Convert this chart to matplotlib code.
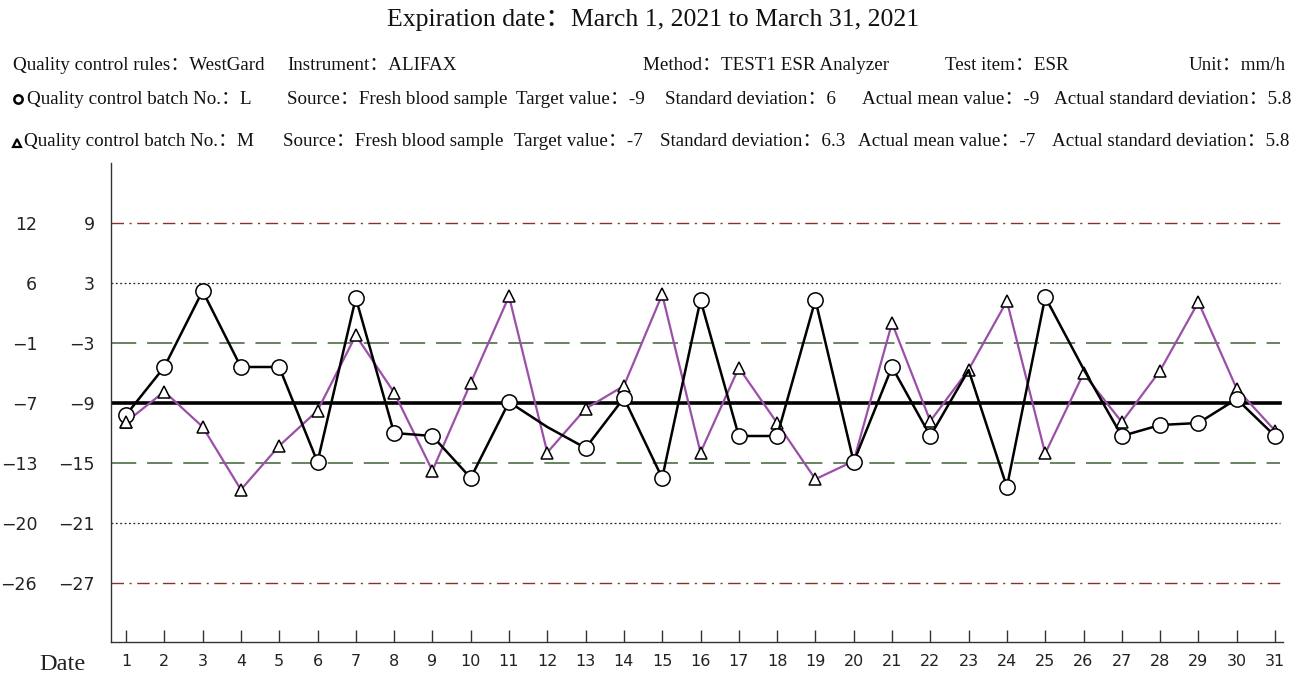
import matplotlib
matplotlib.use("Agg")
import matplotlib.pyplot as plt
import numpy as np

# ---------------- data ----------------
days = list(range(1, 32))
# batch L (circles), values in mm/h
batch_L = [-10.2, -5.4, 2.2, -5.4, -5.4, -14.9, 1.5, -12.0, -12.3, -16.5,
           -8.9, -11.4, -13.5, -8.5, -16.5, 1.3, -12.3, -12.3, 1.3, -14.9,
           -5.4, -12.3, -5.7, -17.4, 1.6, -5.6, -12.3, -11.2, -11.0, -8.6,
           -12.3]
# days of batch L whose marker is not drawn
L_no_marker = [12, 23, 26]
# batch M (triangles), values in mm/h
batch_M = [-9.0, -5.8, -9.5, -16.1, -11.5, -7.8, 0.1, -5.9, -14.1, -4.9,
           4.2, -12.2, -7.6, -5.2, 4.4, -12.2, -3.3, -9.1, -15.0, -13.1,
           1.4, -8.9, -3.5, 3.7, -12.3, -3.9, -9.0, -3.6, 3.6, -5.5,
           -9.9]
L_target, L_sd = -9, 6
M_target, M_sd = -7, 6.3
L_levels = [9, 3, -3, -9, -15, -21, -27]
M_labels = ["12", "6", "\u22121", "\u22127", "\u221213", "\u221220", "\u221226"]
L_labels = ["9", "3", "\u22123", "\u22129", "\u221215", "\u221221", "\u221227"]

title = "Expiration date\uff1aMarch 1, 2021 to March 31, 2021"
row2 = [("Quality control rules\uff1aWestGard", 13), ("Instrument\uff1aALIFAX", 287),
        ("Method\uff1aTEST1 ESR Analyzer", 643), ("Test item\uff1aESR", 945),
        ("Unit\uff1amm/h", 1189)]
row3 = [("Quality control batch No.\uff1aL", 27), ("Source\uff1aFresh blood sample", 287),
        ("Target value\uff1a-9", 516), ("Standard deviation\uff1a6", 665),
        ("Actual mean value\uff1a-9", 862), ("Actual standard deviation\uff1a5.8", 1054)]
row4 = [("Quality control batch No.\uff1aM", 24), ("Source\uff1aFresh blood sample", 283),
        ("Target value\uff1a-7", 514), ("Standard deviation\uff1a6.3", 660),
        ("Actual mean value\uff1a-7", 858), ("Actual standard deviation\uff1a5.8", 1052)]

# ---------------- figure ----------------
W, H = 1306, 675
fig = plt.figure(figsize=(W / 100, H / 100), dpi=100)
ax = fig.add_axes([111 / W, 1 - 642 / H, (1283 - 111) / W, (642 - 163) / H])

serif = ["Liberation Serif", "Noto Sans CJK SC"]
sans = ["DejaVu Sans"]

ax.set_xlim(1 - 15 / 38.3, 31 + 8 / 38.3)
ax.set_ylim(-32.9, 15)

x_end = 31 + 5 / 38.3
x0 = ax.get_xlim()[0]
# control lines
styles = {
    9: dict(color="#8a3324", lw=1.0, ls=(0, (9, 4, 1.5, 4))),
    -27: dict(color="#8a3324", lw=1.0, ls=(0, (9, 4, 1.5, 4))),
    3: dict(color="#222222", lw=0.9, ls=(0, (1.5, 2))),
    -21: dict(color="#222222", lw=0.9, ls=(0, (1.5, 2))),
    -3: dict(color="#5c7a55", lw=1.3, ls=(0, (14, 6))),
    -15: dict(color="#5c7a55", lw=1.3, ls=(0, (14, 6))),
    -9: dict(color="black", lw=2.6, ls="-"),
}
for lvl in L_levels:
    ax.plot([x0, x_end], [lvl, lvl], zorder=1, **styles[lvl])

# M converted onto the L scale (same SD position)
M_on_L = [L_target + (v - M_target) / M_sd * L_sd for v in batch_M]

ax.plot(days, M_on_L, color="#9b4fa8", lw=1.6, zorder=2)
ax.plot(days, M_on_L, ls="none", marker="^", ms=9, mfc="white", mec="black",
        mew=1.1, zorder=3)
ax.plot(days, batch_L, color="black", lw=1.8, zorder=4)
mark_idx = [i for i, d in enumerate(days) if d not in L_no_marker]
ax.plot(days, batch_L, ls="none", marker="o", ms=11, mfc="white", mec="black",
        mew=1.1, markevery=mark_idx, zorder=5)
# on day 1 the triangle lies over the circle
ax.plot(days[:1], M_on_L[:1], ls="none", marker="^", ms=9, mfc="white",
        mec="black", mew=1.1, zorder=6)

# spines and ticks
for s in ["top", "right"]:
    ax.spines[s].set_visible(False)
ax.spines["left"].set_linewidth(1.0)
ax.spines["bottom"].set_linewidth(1.0)
ax.spines["left"].set_color("#333333")
ax.spines["bottom"].set_color("#333333")
ax.set_xticks(days)
ax.set_xticklabels([str(d) for d in days], fontsize=11.5, family=sans, color="#222222")
ax.tick_params(axis="x", direction="in", length=9, width=1.0, pad=9, color="#333333")
ax.set_yticks(L_levels)
ax.set_yticklabels(L_labels, fontsize=12.5, family=sans, color="#222222")
ax.tick_params(axis="y", length=0, pad=11.5)

sec = ax.secondary_yaxis(-0.063)
sec.set_yticks(L_levels)
sec.set_yticklabels(M_labels, fontsize=12.5, family=sans, color="#222222")
sec.tick_params(axis="y", length=0, pad=0)
sec.spines["left"].set_visible(False)

fig.text(62 / W, 1 - 664 / H, "Date", fontsize=17.5, family=serif,
         ha="center", va="center", color="#222222")

# header texts
fig.text(653 / W, 1 - 20 / H, title, fontsize=18.5, family=serif,
         ha="center", va="center", color="#111111")
hs = 13.7
for txt, x in row2:
    fig.text(x / W, 1 - 65 / H, txt, fontsize=hs, family=serif, ha="left",
             va="center", color="#111111")
for txt, x in row3:
    fig.text(x / W, 1 - 99 / H, txt, fontsize=hs, family=serif, ha="left",
             va="center", color="#111111")
for txt, x in row4:
    fig.text(x / W, 1 - 142 / H, txt, fontsize=hs, family=serif, ha="left",
             va="center", color="#111111")
# legend symbols
fig.lines.append(matplotlib.lines.Line2D([18 / W], [1 - 99 / H], marker="o", ms=6,
                                         mfc="white", mec="black", mew=1.8,
                                         transform=fig.transFigure))
fig.lines.append(matplotlib.lines.Line2D([17 / W], [1 - 143 / H], marker="^", ms=6,
                                         mfc="white", mec="black", mew=1.6,
                                         transform=fig.transFigure))

fig.savefig("out.png", dpi=100)
